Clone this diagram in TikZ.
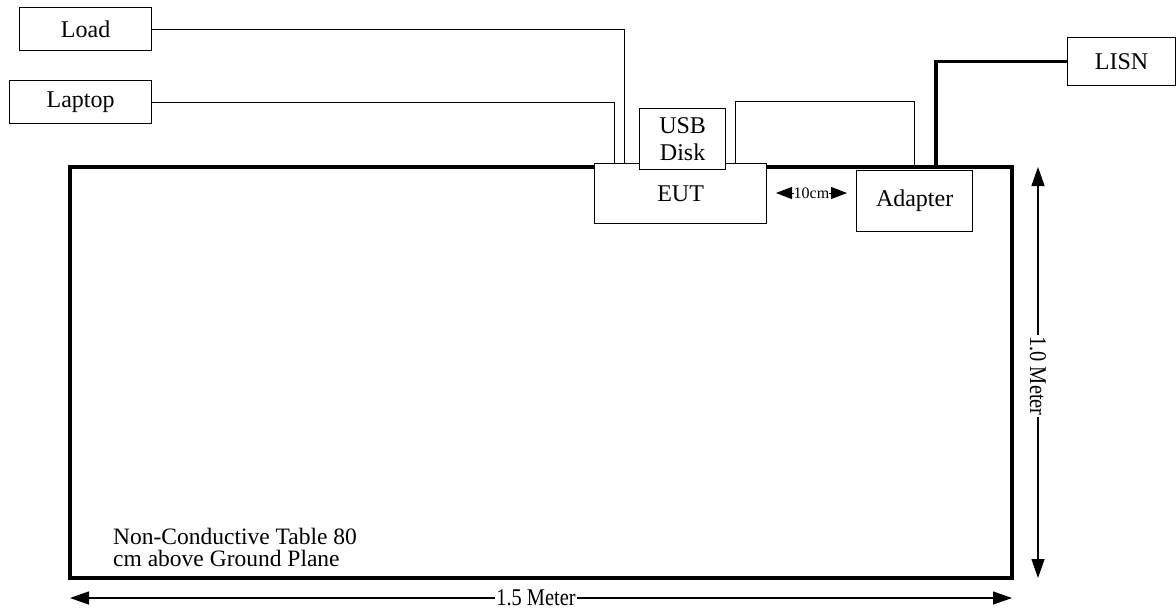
\documentclass[tikz,border=0pt]{standalone}
\usepackage{fontspec}
\setmainfont{Liberation Serif}
\usetikzlibrary{arrows.meta}
\begin{document}
\begin{tikzpicture}[x=1pt,y=-1pt,
 box/.style={draw,line width=1.3pt,fill=white,inner sep=0pt,anchor=north west,align=center,font=\fontsize{24}{27}\selectfont},
 wire/.style={line width=1pt},
 hwire/.style={line width=3.2pt},
 dim/.style={line width=1.3pt,{Triangle[length=19pt,width=13pt]}-{Triangle[length=19pt,width=13pt]}},
 smalldim/.style={line width=1pt,{Triangle[length=16pt,width=12pt]}-{Triangle[length=16pt,width=12pt]}},
 lbl/.style={fill=white,inner sep=1pt,font=\fontsize{24}{27}\selectfont}]
\useasboundingbox (0,0) rectangle (1176,614);
% table
\draw[line width=3.2pt] (70,167) rectangle (1012,578);
% boxes (positions)
\node[box, minimum width=132pt, minimum height=43pt] (load) at (19,7) {Load};
\node[box, minimum width=142pt, minimum height=43pt] (laptop) at (9,80) {Laptop};
\node[box, minimum width=108pt, minimum height=48pt] (lisn) at (1067,37) {LISN};
% wires
\coordinate (loadx) at (624,0);
\coordinate (lapx) at (614,0);
\coordinate (usbx) at (735,0);
\coordinate (adx) at (914,0);
\coordinate (usbtop) at (0,101);
\coordinate (lisnx) at (936,0);
\coordinate (tabletop) at (0,167);
\coordinate (euttop) at (0,163);
\draw[wire] (load.east) -| (loadx |- euttop);
\draw[wire] (laptop.east) -| (lapx |- euttop);
\draw[wire] (usbx |- euttop) -- (usbx |- usbtop) -| (adx |- tabletop);
\draw[hwire] (lisnx |- tabletop) |- (lisn.west);
% EUT, USB, adapter
\node[box, minimum width=172pt, minimum height=60pt] (eut) at (594,163) {EUT};
\node[box, minimum width=86pt, minimum height=61pt] (usb) at (639,108) {USB\\Disk};
\node[box, minimum width=116pt, minimum height=61pt] (adapter) at (856,170) {Adapter};
% 10cm dimension
\coordinate (d1) at (776,193);
\coordinate (d2) at (847,193);
\draw[smalldim] (d1) -- (d2);
\node[fill=white,inner sep=0pt,font=\fontsize{16}{17}\selectfont] (tencm) at (811.5,193) {10cm};
% dimensions
\coordinate (h1) at (70,598);
\coordinate (h2) at (1012,598);
\draw[dim] (h1) -- (h2);
\node[lbl] (hlbl) at (536,598) {\scalebox{0.85}[1]{1.5 Meter}};
\coordinate (v1) at (1038,167);
\coordinate (v2) at (1038,578);
\draw[dim] (v1) -- (v2);
\node[lbl, rotate=-90] (vlbl) at (1038,376) {\scalebox{0.85}[1]{1.0 Meter}};
% table note
\node[anchor=north west, align=left, inner sep=0pt, font=\fontsize{23.5}{22}\selectfont] (note) at (113,528) {Non-Conductive Table 80\\cm above Ground Plane};
\end{tikzpicture}
\end{document}
